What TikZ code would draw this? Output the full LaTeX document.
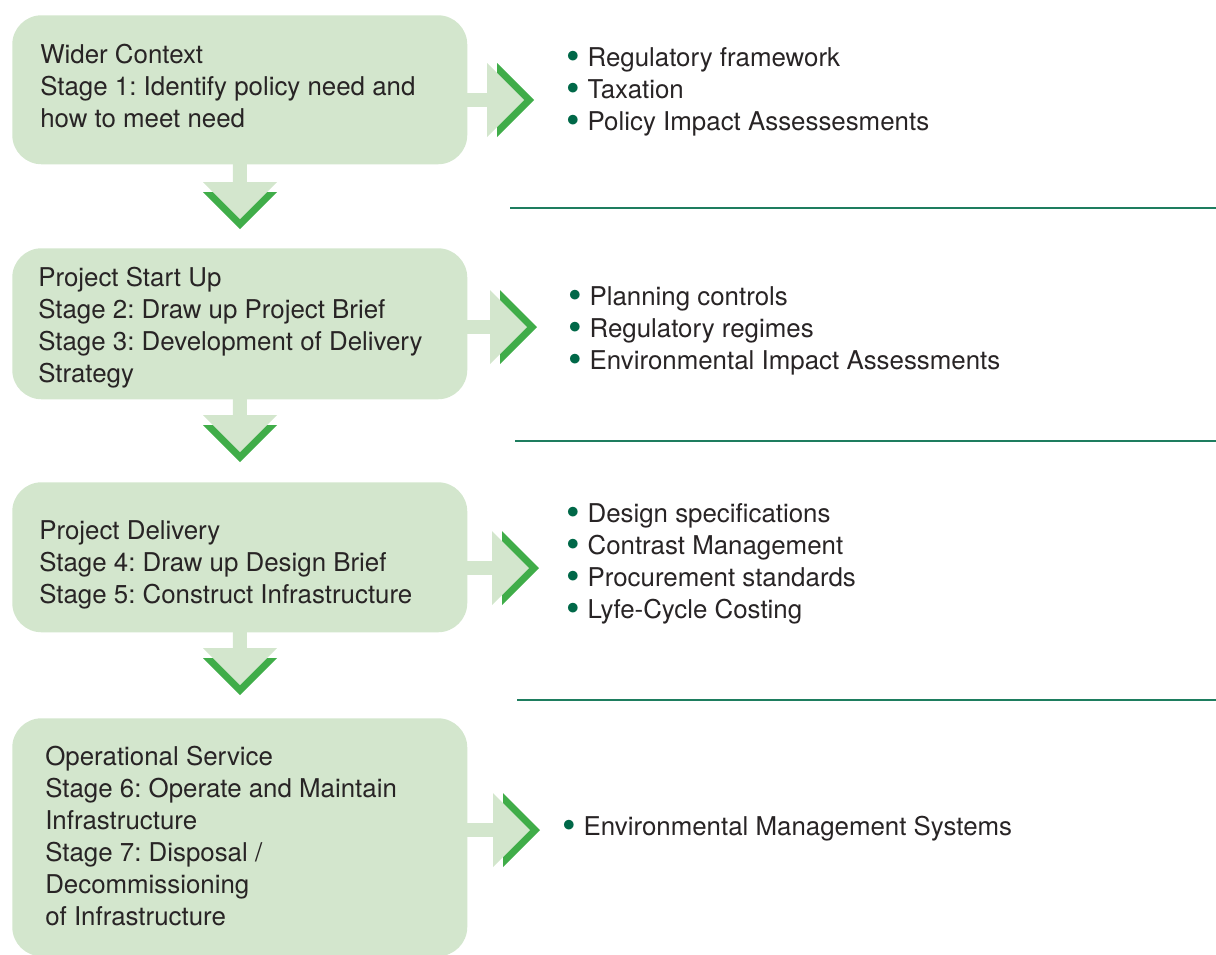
\documentclass[tikz,border=0pt]{standalone}
\usepackage{fontspec}
\setmainfont{TeX Gyre Heros}
\usetikzlibrary{positioning}
\definecolor{boxgreen}{RGB}{211,230,205}
\definecolor{chevgreen}{RGB}{64,173,73}
\definecolor{dotgreen}{RGB}{0,104,72}
\definecolor{rulegreen}{RGB}{30,125,95}
\definecolor{inkgray}{RGB}{40,36,37}
\newcommand{\bul}{\textcolor{dotgreen}{\raisebox{-2.25pt}{\scalebox{1.5}{\textbullet}}}\hspace{5.8pt}}

\begin{document}
\frenchspacing
\begin{tikzpicture}[x=0.75pt,y=0.75pt,yscale=-1,xscale=1,
  stagebox/.style={fill=boxgreen, rounded corners=22pt, anchor=north west, inner sep=0pt, minimum width=341.25pt},
  boxtext/.style={anchor=base west, inner sep=0pt, align=left, text=inkgray, font=\fontsize{19.4}{24}\selectfont},
  itemlist/.style={anchor=base west, inner sep=0pt, align=left, text=inkgray, font=\fontsize{19.4}{24}\selectfont},
  sepline/.style={draw=rulegreen, line width=1.3pt}]
\useasboundingbox (0,0) rectangle (1216,954);

% Stage boxes
\node[stagebox, minimum height=111.75pt] (wider) at (12,15) {};
\node[stagebox, minimum height=113.25pt] (startup) at (12,248) {};
\node[stagebox, minimum height=112.5pt] (delivery) at (12,482) {};
\node[stagebox, minimum height=178.5pt] (service) at (12,718) {};

% Right arrows
\foreach \src/\ay/\ax in {wider/100/487, startup/327/490, delivery/568/492, service/830/493}{
  \coordinate (tip) at (\ax+1,\ay);
  \draw[boxgreen, line width=10.5pt] (\src.east |- tip) ++(-2,0) -- (tip);
  \fill[chevgreen] (\ax+10,\ay-37) -- (\ax+47,\ay) -- (\ax+10,\ay+37) -- cycle;
  \fill[boxgreen] (\ax,\ay-37) -- (\ax+37,\ay) -- (\ax,\ay+37) -- cycle;
}

% Down arrows
\foreach \src/\ty in {wider/182, startup/415, delivery/648}{
  \coordinate (dtop) at (240,\ty+1);
  \draw[boxgreen, line width=10.5pt] (\src.south) ++(0,-2) -- (dtop);
  \fill[chevgreen] (203,\ty+10) -- (277,\ty+10) -- (240,\ty+47) -- cycle;
  \fill[boxgreen] (203,\ty) -- (277,\ty) -- (240,\ty+37) -- cycle;
}

% Box texts (anchored at last baseline)
\node[boxtext] (widertext) at (40,127) {Wider Context\\Stage 1: Identify policy need and\\how to meet need};
\node[boxtext] (startuptext) at (38,382) {Project Start Up\\Stage 2: Draw up Project Brief\\Stage 3: Development of Delivery\\Strategy};
\node[boxtext] (deliverytext) at (39,603) {Project Delivery\\Stage 4: Draw up Design Brief\\Stage 5: Construct Infrastructure};
\node[boxtext] (servicetext) at (45,925) {Operational Service\\Stage 6: Operate and Maintain\\Infrastructure\\Stage 7: Disposal /\\Decommissioning\\of Infrastructure};

% Separator rules
\draw[sepline] (510,208) -- (1216,208);
\draw[sepline] (515,441) -- (1216,441);
\draw[sepline] (517,700) -- (1216,700);

% Item lists
\node[itemlist] (policy) at (566,130) {\bul Regulatory framework\\\bul Taxation\\\bul Policy Impact Assessesments};
\node[itemlist] (planning) at (568,369) {\bul Planning controls\\\bul Regulatory regimes\\\bul Environmental Impact Assessments};
\node[itemlist] (design) at (566,618) {\bul Design specifications\\\bul Contrast Management\\\bul Procurement standards\\\bul Lyfe-Cycle Costing};
\node[itemlist] (systems) at (562,835) {\bul Environmental Management Systems};

\end{tikzpicture}
\end{document}
